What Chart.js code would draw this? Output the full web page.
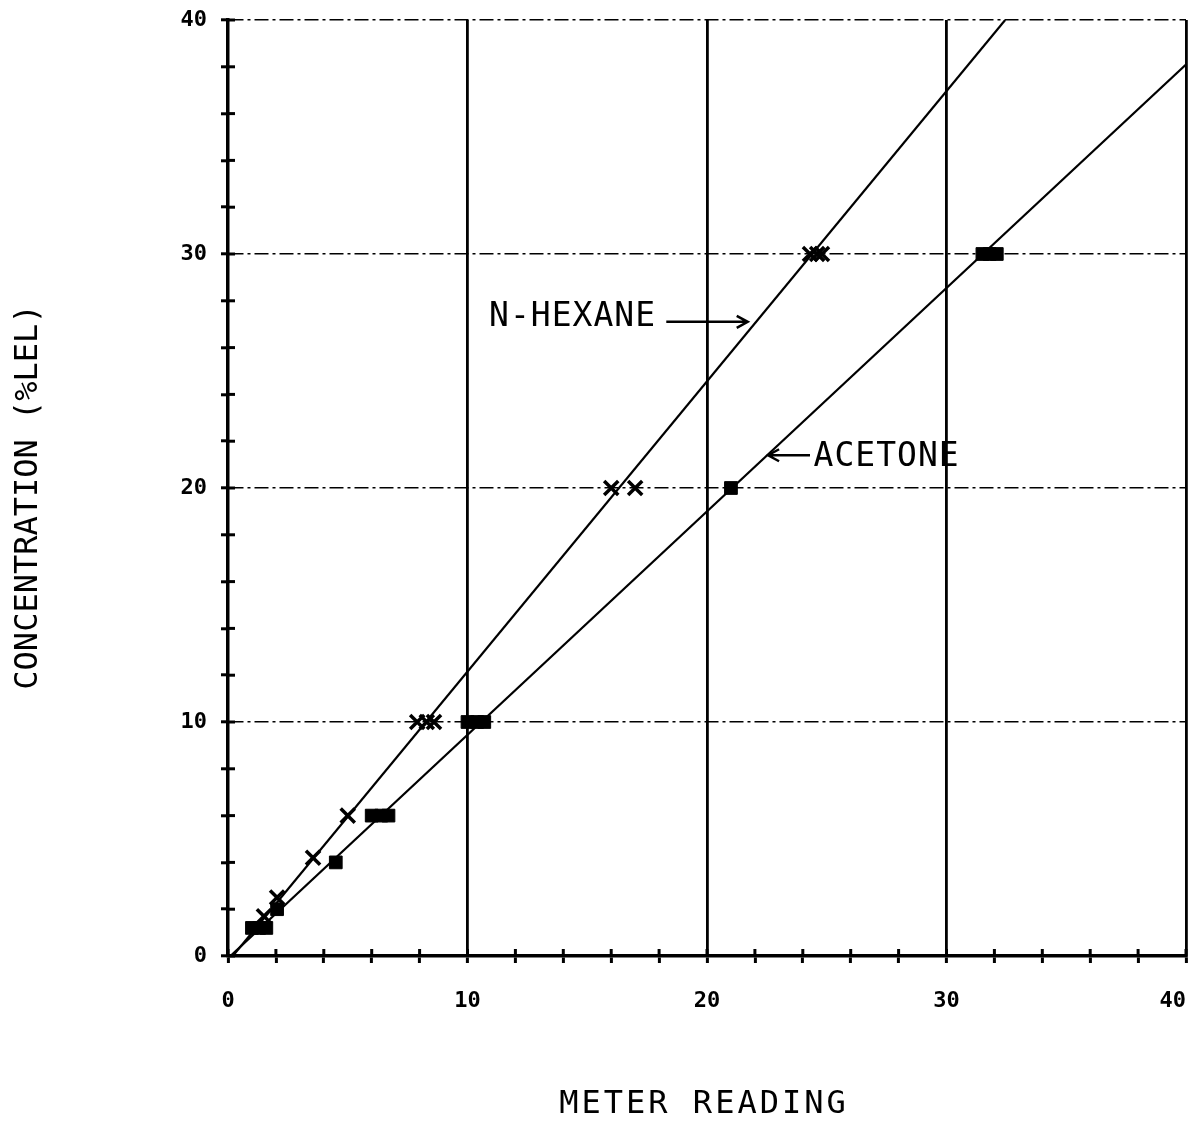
<!DOCTYPE html>
<html>
<head>
<meta charset="utf-8">
<title>Concentration vs meter reading</title>
<script src="https://cdn.jsdelivr.net/npm/chart.js@4.4.1/dist/chart.umd.min.js"></script>
<style>
  html, body { margin: 0; padding: 0; background: #fff; }
  #wrap { width: 1194px; height: 1124px; position: relative; }
</style>
</head>
<body>
<div id="wrap"><canvas id="chart"></canvas></div>
<script>
// measured points (meter reading, %LEL)
const hexaneX = [1.5, 2.05, 3.55, 5.0, 7.9, 8.3, 8.6, 16.0, 17.0, 24.3, 24.6, 24.8];
const hexaneY = [1.7, 2.5, 4.2, 6.0, 10, 10, 10, 20, 20, 30, 30, 30];
const acetoneX = [1.0, 1.3, 1.6, 2.05, 4.5, 6.0, 6.4, 6.7, 10.0, 10.4, 10.7, 21.0, 31.5, 31.8, 32.1];
const acetoneY = [1.2, 1.2, 1.2, 2.0, 4.0, 6, 6, 6, 10, 10, 10, 20, 30, 30, 30];

// fitted calibration lines (end points)
const hexaneFitX = [0.2, 32.45];
const hexaneFitY = [0, 40];
const acetoneFitX = [0.1, 40];
const acetoneFitY = [0, 38.1];

const axisMin = 0;
const axisMax = 40;
const minorStep = 2;
const xTitle = 'METER READING';
const yTitle = 'CONCENTRATION (%LEL)';

const toPoints = (xs, ys) => xs.map((x, i) => ({ x: x, y: ys[i] }));

function drawArrow(ctx, x1, y1, x2, y2) {
    ctx.beginPath();
    ctx.moveTo(x1, y1);
    ctx.lineTo(x2, y2);
    const dir = Math.sign(x2 - x1);
    ctx.moveTo(x2 - dir * 11, y2 - 6);
    ctx.lineTo(x2, y2);
    ctx.lineTo(x2 - dir * 11, y2 + 6);
    ctx.stroke();
}

const decorations = {
    id: 'decorations',
    afterDraw(chart) {
        const { ctx, chartArea, scales } = chart;
        const x = scales.x, y = scales.y;
        ctx.save();
        ctx.strokeStyle = '#000';
        ctx.fillStyle = '#000';

        // inner half of the tick marks
        ctx.lineWidth = 3;
        x.ticks.forEach(t => {
            const px = x.getPixelForValue(t.value);
            ctx.beginPath();
            ctx.moveTo(px, chartArea.bottom);
            ctx.lineTo(px, chartArea.bottom - 7);
            ctx.stroke();
        });
        y.ticks.forEach(t => {
            const py = y.getPixelForValue(t.value);
            ctx.beginPath();
            ctx.moveTo(chartArea.left, py);
            ctx.lineTo(chartArea.left + 7, py);
            ctx.stroke();
        });

        // line labels
        ctx.font = '33px "DejaVu Sans Mono"';
        ctx.letterSpacing = '1px';
        ctx.textAlign = 'left';
        ctx.textBaseline = 'middle';
        ctx.fillText('N-HEXANE', x.getPixelForValue(10.9), y.getPixelForValue(27.3));
        ctx.fillText('ACETONE', x.getPixelForValue(24.45), y.getPixelForValue(21.3));
        ctx.lineWidth = 2.5;
        drawArrow(ctx, x.getPixelForValue(18.3), y.getPixelForValue(27.1),
                       x.getPixelForValue(21.7), y.getPixelForValue(27.1));
        drawArrow(ctx, x.getPixelForValue(24.3), y.getPixelForValue(21.4),
                       x.getPixelForValue(22.55), y.getPixelForValue(21.4));

        // axis titles
        ctx.font = '32px "DejaVu Sans Mono"';
        ctx.textAlign = 'center';
        ctx.letterSpacing = '3px';
        ctx.fillText(xTitle, 704, 1105);
        ctx.letterSpacing = '0px';
        ctx.translate(29, 497);
        ctx.rotate(-Math.PI / 2);
        ctx.fillText(yTitle, 0, 0);
        ctx.restore();
    }
};

const tickFont = { family: 'DejaVu Sans Mono', size: 22, weight: 'bold' };
const majorOnly = ctx => (ctx.tick && ctx.tick.value % 10 === 0 && ctx.tick.value !== 0) ? '#000' : 'rgba(0,0,0,0)';

new Chart(document.getElementById('chart'), {
    type: 'scatter',
    data: {
        datasets: [
            {
                label: 'N-HEXANE fit',
                data: toPoints(hexaneFitX, hexaneFitY),
                showLine: true,
                borderColor: '#000',
                borderWidth: 2.2,
                pointRadius: 0
            },
            {
                label: 'ACETONE fit',
                data: toPoints(acetoneFitX, acetoneFitY),
                showLine: true,
                borderColor: '#000',
                borderWidth: 2.2,
                pointRadius: 0
            },
            {
                label: 'N-HEXANE',
                data: toPoints(hexaneX, hexaneY),
                pointStyle: 'crossRot',
                pointRadius: 10,
                borderColor: '#000',
                borderWidth: 3.5
            },
            {
                label: 'ACETONE',
                data: toPoints(acetoneX, acetoneY),
                pointStyle: 'rect',
                pointRadius: 9,
                backgroundColor: '#000',
                borderColor: '#000',
                borderWidth: 1
            }
        ]
    },
    options: {
        responsive: true,
        maintainAspectRatio: false,
        animation: false,
        layout: { autoPadding: false, padding: { left: 0, top: 20, right: 8, bottom: 0 } },
        plugins: {
            legend: { display: false },
            tooltip: { enabled: false }
        },
        scales: {
            x: {
                type: 'linear',
                min: axisMin,
                max: axisMax,
                afterFit: s => { s.height = 168; s.paddingLeft = 0; s.paddingRight = 0; },
                ticks: {
                    stepSize: minorStep,
                    autoSkip: false,
                    maxRotation: 0,
                    padding: 25,
                    color: '#000',
                    font: tickFont,
                    callback: v => v % 10 !== 0 ? '' : (v === axisMax ? v + '  ' : String(v))
                },
                grid: {
                    color: majorOnly,
                    lineWidth: 2.8,
                    tickColor: '#000',
                    tickLength: 7,
                    tickWidth: 3
                },
                border: { color: '#000', width: 3.5 }
            },
            y: {
                type: 'linear',
                min: axisMin,
                max: axisMax,
                afterFit: s => { s.width = 228; s.paddingTop = 0; s.paddingBottom = 0; },
                ticks: {
                    stepSize: minorStep,
                    autoSkip: false,
                    padding: 14,
                    color: '#000',
                    font: tickFont,
                    callback: v => v % 10 === 0 ? String(v) : ''
                },
                grid: {
                    color: majorOnly,
                    lineWidth: 1.6,
                    tickColor: '#000',
                    tickLength: 7,
                    tickWidth: 3
                },
                border: { color: '#000', width: 3.5, dash: [14, 4, 3, 4] }
            }
        }
    },
    plugins: [decorations]
});
</script>
</body>
</html>
